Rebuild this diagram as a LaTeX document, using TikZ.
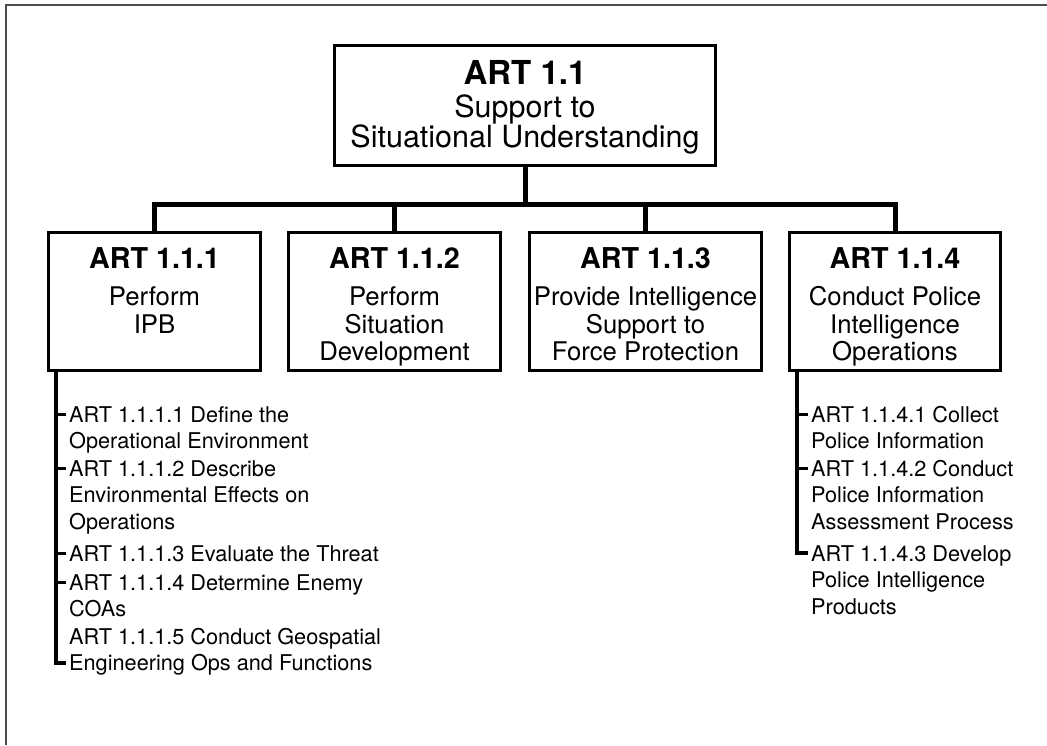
\documentclass[tikz,border=0pt]{standalone}
\usepackage{fontspec}
\setmainfont{TeX Gyre Heros}
\usetikzlibrary{positioning,calc}

\begin{document}
\begin{tikzpicture}[x=1pt,y=-1pt,
    box/.style={draw,line width=3pt,inner sep=0pt},
    boxtext/.style={align=center,inner sep=0pt,font=\fontsize{25.7}{27.5}\selectfont},
    item/.style={align=left,anchor=north west,inner sep=0pt,font=\fontsize{21.7}{26.5}\selectfont},
    conn/.style={line width=5pt},
    spine/.style={line width=4pt},
    tick/.style={line width=3pt}]
  \useasboundingbox (0,0) rectangle (1047,745);
  \draw[black!70,line width=1.5pt] (6,745) |- (1047,5);
  \draw
    (525,105.5) node[box,minimum width=381pt,minimum height=120pt] (0){}
    (154.5,301.5) node[box,minimum width=212pt,minimum height=138pt] (1){}
    (394.5,301.5) node[box,minimum width=212pt,minimum height=138pt] (2){}
    (645.5,301.5) node[box,minimum width=232pt,minimum height=138pt] (3){}
    (895,301.5) node[box,minimum width=211pt,minimum height=138pt] (4){};
  \node[boxtext,font=\fontsize{30.5}{30}\selectfont,below=16pt of 0.north] (0t)
    {{\fontsize{33}{33}\selectfont\bfseries ART 1.1}\\[3pt]Support to\\Situational Understanding};
  \node[boxtext,below=16.5pt of 1.north] (1t)
    {{\fontsize{28.7}{28.7}\selectfont\bfseries ART 1.1.1}\\[9.5pt]Perform\\IPB};
  \node[boxtext,below=16.5pt of 2.north] (2t)
    {{\fontsize{28.7}{28.7}\selectfont\bfseries ART 1.1.2}\\[9.5pt]Perform\\Situation\\Development};
  \node[boxtext,below=16.5pt of 3.north] (3t)
    {{\fontsize{28.7}{28.7}\selectfont\bfseries ART 1.1.3}\\[9.5pt]Provide Intelligence\\Support to\\Force Protection};
  \node[boxtext,below=16.5pt of 4.north] (4t)
    {{\fontsize{28.7}{28.7}\selectfont\bfseries ART 1.1.4}\\[9.5pt]Conduct Police\\Intelligence\\Operations};
  % tree
  \coordinate (bar) at (0,204);
  \begin{scope}[conn]
    \draw (0.south) -- (0.south |- bar);
    \draw (1.north) |- (4.north |- bar) -- (4.north);
    \draw (2.north) -- (2.north |- bar);
    \draw (3.north) -- (3.north |- bar);
  \end{scope}
  % sub tasks
  \node[item] (11) at (69,406) {ART 1.1.1.1 Define the\\Operational Environment};
  \node[item] (12) at (69,460) {ART 1.1.1.2 Describe\\Environmental Effects on\\Operations};
  \node[item] (13) at (69,545) {ART 1.1.1.3 Evaluate the Threat};
  \node[item] (14) at (69,574) {ART 1.1.1.4 Determine Enemy\\COAs};
  \node[item] (15) at (69,628) {ART 1.1.1.5 Conduct Geospatial\\Engineering Ops and Functions};
  \node[item] (41) at (811,406) {ART 1.1.4.1 Collect\\Police Information};
  \node[item] (42) at (811,460) {ART 1.1.4.2 Conduct\\Police Information\\Assessment Process};
  \node[item] (43) at (811,545) {ART 1.1.4.3 Develop\\Police Intelligence\\Products};
  \coordinate (s1) at ([xshift=9pt]1.south west);
  \coordinate (s4) at ([xshift=9pt]4.south west);
  \draw[spine] (s1) |- ($(15.south west)+(-3,-13)$);
  \draw[spine] (s4) |- ($(43.north west)+(-3,8)$);
  \foreach \i in {11,...,14}
    \draw[tick] ($(\i.north west)+(-3,8)$) -- ($(s1 |- \i.north west)+(0,8)$);
  \foreach \i in {41,42}
    \draw[tick] ($(\i.north west)+(-3,8)$) -- ($(s4 |- \i.north west)+(0,8)$);
\end{tikzpicture}
\end{document}
